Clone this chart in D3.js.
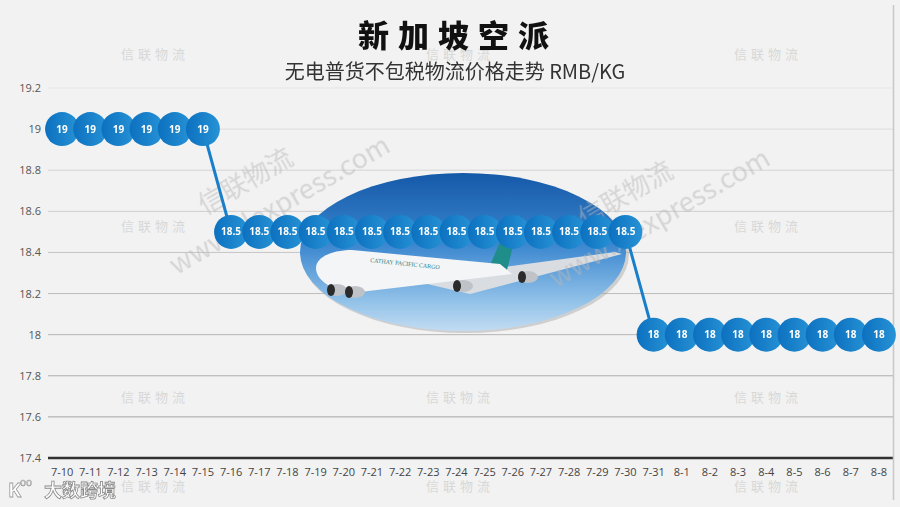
<!DOCTYPE html>
<html>
<head>
<meta charset="utf-8">
<script src="https://cdn.jsdelivr.net/npm/d3@7"></script>
<style>
  html, body { margin: 0; padding: 0; background: #f2f2f2; }
  svg { display: block; }
</style>
</head>
<body>
<div id="chart"></div>
<script>
const dates = ["7-10", "7-11", "7-12", "7-13", "7-14", "7-15", "7-16", "7-17", "7-18", "7-19",
  "7-20", "7-21", "7-22", "7-23", "7-24", "7-25", "7-26", "7-27", "7-28", "7-29",
  "7-30", "7-31", "8-1", "8-2", "8-3", "8-4", "8-5", "8-6", "8-7", "8-8"];
const prices = [19, 19, 19, 19, 19, 19, 18.5, 18.5, 18.5, 18.5,
  18.5, 18.5, 18.5, 18.5, 18.5, 18.5, 18.5, 18.5, 18.5, 18.5,
  18.5, 18, 18, 18, 18, 18, 18, 18, 18, 18];
const yTicks = [17.4, 17.6, 17.8, 18, 18.2, 18.4, 18.6, 18.8, 19, 19.2];

const title = "新加坡空派";
const subtitle = "无电普货不包税物流价格走势 RMB/KG";

const W = 900, H = 507;
const margin = { top: 88, right: 7, bottom: 49, left: 48 };
const width = W - margin.left - margin.right;
const height = H - margin.top - margin.bottom;

const svg = d3.select("#chart").append("svg").attr("width", W).attr("height", H);
const defs = svg.append("defs");

svg.append("rect").attr("width", W).attr("height", H).attr("fill", "#f2f2f2");

// circle gradient
const cg = defs.append("linearGradient").attr("id", "dot").attr("x1", "0").attr("x2", "1").attr("y1", "0").attr("y2", "0");
cg.append("stop").attr("offset", "0").attr("stop-color", "#0c70bf");
cg.append("stop").attr("offset", "1").attr("stop-color", "#2793d6");

// sky gradient for the picture
const sky = defs.append("linearGradient").attr("id", "sky").attr("x1", "0").attr("x2", "0").attr("y1", "0").attr("y2", "1");
sky.append("stop").attr("offset", "0").attr("stop-color", "#1559a8");
sky.append("stop").attr("offset", "0.45").attr("stop-color", "#3a86cf");
sky.append("stop").attr("offset", "0.8").attr("stop-color", "#8fc0e8");
sky.append("stop").attr("offset", "1").attr("stop-color", "#c2dcf2");

const x = d3.scaleBand().domain(dates).range([0, width]);
const y = d3.scaleLinear().domain([17.4, 19.2]).range([height, 0]);

const g = svg.append("g").attr("transform", `translate(${margin.left},${margin.top})`);

// gridlines (lighter toward the top)
const gridColor = d3.scaleLinear().domain([17.6, 19.2]).range(["#a6a6a6", "#e4e4e4"]);
g.selectAll(".grid").data(yTicks.filter(d => d > 17.4)).join("line")
  .attr("class", "grid")
  .attr("x1", 0).attr("x2", width)
  .attr("y1", d => y(d)).attr("y2", d => y(d))
  .attr("stroke", d => gridColor(d)).attr("stroke-width", 1);

// y axis labels
const yAxis = g.append("g").call(d3.axisLeft(y).tickValues(yTicks).tickSize(0).tickPadding(7).tickFormat(d3.format("")));
yAxis.select(".domain").remove();
yAxis.selectAll("text").attr("font-family", "'Open Sans', sans-serif").attr("font-size", 11)
  .attr("fill", "#555");

// baseline
g.append("line").attr("x1", 0).attr("x2", width).attr("y1", y(17.4)).attr("y2", y(17.4))
  .attr("stroke", "#333").attr("stroke-width", 2.5);

// x axis labels
const xAxis = g.append("g").attr("transform", `translate(0,${height})`)
  .call(d3.axisBottom(x).tickSize(0).tickPadding(10));
xAxis.select(".domain").remove();
xAxis.selectAll("text").attr("font-family", "'Open Sans', sans-serif").attr("font-size", 11)
  .attr("fill", "#444");

// right border
svg.append("line").attr("x1", 893.5).attr("x2", 893.5).attr("y1", 5).attr("y2", 500)
  .attr("stroke", "#c8c8c8").attr("stroke-width", 1.5);

// small watermarks
const wmX = [155, 460, 768];
const wmY = [59, 231, 402, 491];
const wm = svg.append("g").attr("font-family", "'Noto Sans CJK SC', sans-serif").attr("font-size", 13)
  .attr("fill", "#d8d8d8").attr("text-anchor", "middle").attr("letter-spacing", 4);
wmY.forEach(yy => wmX.forEach(xx => wm.append("text").attr("x", xx).attr("y", yy).text("信联物流")));

// picture: ellipse with a simple plane
const pic = svg.append("g");
pic.append("ellipse").attr("cx", 465).attr("cy", 254).attr("rx", 164).attr("ry", 79)
  .attr("fill", "#9a9a9a").attr("opacity", 0.4);
pic.append("ellipse").attr("cx", 463).attr("cy", 252).attr("rx", 163).attr("ry", 79)
  .attr("fill", "url(#sky)");
// wing
pic.append("path").attr("d", "M410,280 L615,252 L622,254 L470,294 Z").attr("fill", "#d9dde2");
// tail
pic.append("path").attr("d", "M488,270 L500,242 L514,242 L506,274 Z").attr("fill", "#1f8d8a");
// fuselage
pic.append("path").attr("d", "M316,268 C316,257 332,250 352,250 L500,264 L512,274 L360,292 C333,292 316,281 316,268 Z")
  .attr("fill", "#f4f5f7");
pic.append("text").attr("x", 370).attr("y", 262).attr("font-size", 6).attr("fill", "#2a7f83")
  .attr("font-family", "'Liberation Serif', serif").attr("transform", "rotate(6,370,262)").text("CATHAY PACIFIC CARGO");
// engines
[[337, 290], [355, 292], [463, 286], [528, 277]].forEach(([ex, ey]) => {
  pic.append("ellipse").attr("cx", ex).attr("cy", ey).attr("rx", 10).attr("ry", 6).attr("fill", "#bfc3c8");
  pic.append("ellipse").attr("cx", ex - 6).attr("cy", ey).attr("rx", 4).attr("ry", 6).attr("fill", "#2b2b2b");
});

// large diagonal watermarks
const big = svg.append("g").attr("font-family", "'Noto Sans CJK SC', sans-serif").attr("fill", "#b8b8b8")
  .attr("opacity", 0.5);
[[205, 215], [585, 228]].forEach(([bx, by]) => {
  const t = big.append("g").attr("transform", `translate(${bx},${by}) rotate(-30)`);
  t.append("text").attr("x", 0).attr("y", 0).attr("font-size", 26).text("信联物流");
  t.append("text").attr("x", -55).attr("y", 38).attr("font-size", 27).text("www.xlexpress.com");
});

// line and dots on top of everything
const marks = svg.append("g").attr("transform", `translate(${margin.left},${margin.top})`);
const line = d3.line().x((d, i) => x(dates[i]) + x.bandwidth() / 2).y(d => y(d));
marks.append("path").datum(prices).attr("d", line).attr("fill", "none")
  .attr("stroke", "#1a7fcb").attr("stroke-width", 3);

const dots = marks.selectAll(".dot").data(prices).join("g").attr("class", "dot")
  .attr("transform", (d, i) => `translate(${x(dates[i]) + x.bandwidth() / 2},${y(d)})`);
dots.append("circle").attr("r", 17).attr("fill", "url(#dot)");
dots.append("text").attr("text-anchor", "middle").attr("dy", "0.36em")
  .attr("font-family", "'Open Sans', sans-serif").attr("font-weight", 700).attr("font-size", 10)
  .attr("fill", "#fff").text(d => d);

// titles
svg.append("text").attr("x", 458).attr("y", 47).attr("text-anchor", "middle")
  .attr("font-family", "'Noto Sans CJK SC', sans-serif").attr("font-weight", 900).attr("font-size", 31)
  .attr("letter-spacing", 9).attr("fill", "#111").text(title);
svg.append("text").attr("x", 455).attr("y", 79).attr("text-anchor", "middle")
  .attr("font-family", "'Noto Sans CJK SC', sans-serif").attr("font-size", 20)
  .attr("fill", "#333").text(subtitle);

// corner logo
const logo = svg.append("g");
logo.append("text").attr("x", 8).attr("y", 497).attr("font-family", "'Noto Sans', sans-serif")
  .attr("font-size", 20).attr("font-weight", 700).attr("fill", "#fff").attr("stroke", "#999")
  .attr("stroke-width", 0.8).text("K");
logo.append("text").attr("x", 20).attr("y", 486).attr("font-family", "'Noto Sans', sans-serif")
  .attr("font-size", 10).attr("fill", "#fff").attr("stroke", "#999").attr("stroke-width", 0.6).text("oo");
logo.append("text").attr("x", 44).attr("y", 497).attr("font-family", "'Noto Sans CJK SC', sans-serif")
  .attr("font-size", 18).attr("font-weight", 700).attr("fill", "#fff").attr("stroke", "#8a8a8a")
  .attr("stroke-width", 0.8).text("大数跨境");
</script>
</body>
</html>
